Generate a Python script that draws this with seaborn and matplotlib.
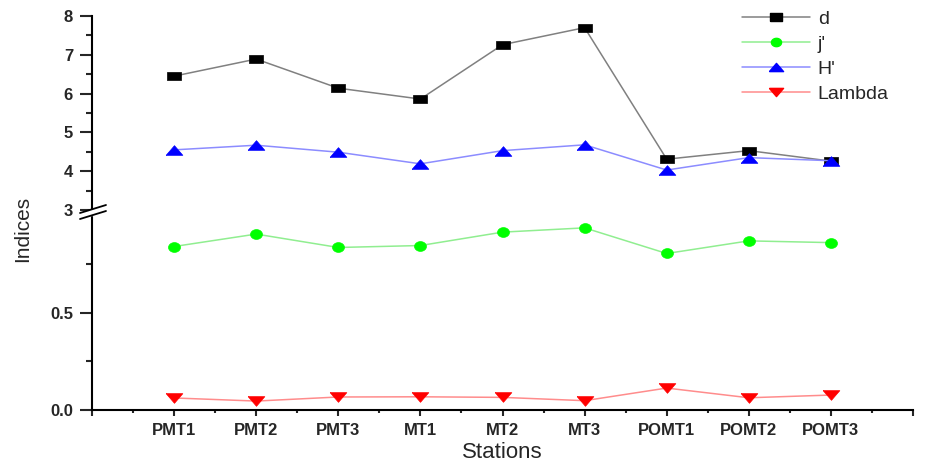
import numpy as np
import matplotlib
matplotlib.use("Agg")
import matplotlib.pyplot as plt
from matplotlib.lines import Line2D
from matplotlib.patches import Rectangle
import seaborn as sns

# ── Data ──────────────────────────────────────────────────────────────────────
stations = ["PMT1", "PMT2", "PMT3", "MT1", "MT2", "MT3", "POMT1", "POMT2", "POMT3"]
d_vals = [6.45, 6.89, 6.14, 5.86, 7.26, 7.70, 4.31, 4.53, 4.26]
h_vals = [4.55, 4.67, 4.49, 4.19, 4.53, 4.68, 4.03, 4.35, 4.27]
j_vals = [0.842, 0.906, 0.837, 0.847, 0.916, 0.938, 0.806, 0.871, 0.862]
lam_vals = [0.062, 0.046, 0.067, 0.068, 0.065, 0.048, 0.113, 0.063, 0.077]
pos = list(range(1, len(stations) + 1))

upper_ticks = [3, 4, 5, 6, 7, 8]
lower_ticks = [0.0, 0.5]

# ── Style ─────────────────────────────────────────────────────────────────────
sns.set_theme(style="white")
plt.rcParams["font.family"] = ["Liberation Sans", "DejaVu Sans"]
plt.rcParams.update({
    "axes.linewidth": 1.5,
    "axes.edgecolor": "black",
    "xtick.direction": "out",
    "ytick.direction": "out",
    "xtick.bottom": True,
    "ytick.left": True,
})

# wide markers (the source image is horizontally stretched)
SQ = [(-1, -0.62), (1, -0.62), (1, 0.62), (-1, 0.62), (-1, -0.62)]
TRI_UP = [(-1, -0.58), (1, -0.58), (0, 0.58), (-1, -0.58)]
TRI_DN = [(-1, 0.58), (1, 0.58), (0, -0.58), (-1, 0.58)]
_t = np.linspace(0, 2 * np.pi, 40)
ELL = list(zip(np.cos(_t), 0.82 * np.sin(_t)))

W, H = 930, 467
fig = plt.figure(figsize=(W / 100, H / 100), dpi=100)
x0, x1 = 92 / W, 913 / W
y_break = 1 - 210 / H
y_top = 1 - 16 / H
y_bot = 1 - 410 / H
ax_top = fig.add_axes([x0, y_break, x1 - x0, y_top - y_break])
ax_bot = fig.add_axes([x0, y_bot, x1 - x0, y_break - y_bot])

series = [
    (ax_top, d_vals, "d", "#808080", "black", SQ, 10),
    (ax_bot, j_vals, "j'", "#90ee90", "#00ff00", ELL, 8.6),
    (ax_top, h_vals, "H'", "#8c8cff", "#0000ff", TRI_UP, 12),
    (ax_bot, lam_vals, "Lambda", "#ff8c8c", "#ff0000", TRI_DN, 12),
]
handles = []
for ax, vals, name, lc, mc, mk, ms in series:
    sns.lineplot(x=pos, y=vals, ax=ax, color=lc, lw=1.1, marker=mk, ms=ms,
                 markerfacecolor=mc, markeredgecolor=mc, markeredgewidth=0.5,
                 zorder=3)
    handles.append(Line2D([], [], color=lc, lw=1.1, marker=mk, ms=ms * 0.85,
                          markerfacecolor=mc, markeredgecolor=mc, label=name))

for ax in (ax_top, ax_bot):
    ax.set_xlim(0, 10)
    ax.spines["top"].set_visible(False)
    ax.spines["right"].set_visible(False)
    ax.tick_params(axis="y", which="major", length=8.6, width=1.5, left=True, pad=5)
    ax.tick_params(axis="y", which="minor", length=4.3, width=1.5, left=True)
    ax.set_ylabel("")

ax_top.spines["bottom"].set_visible(False)
ax_top.set_ylim(3, 8)
ax_top.set_yticks(upper_ticks)
ax_top.set_yticks([3.5, 4.5, 5.5, 6.5, 7.5], minor=True)
ax_top.set_yticklabels([str(t) for t in upper_ticks], fontweight="bold", fontsize=12)
ax_top.set_xticks([])

ax_bot.set_ylim(0, 1.03)
ax_bot.set_yticks(lower_ticks)
ax_bot.set_yticks([0.25, 0.75], minor=True)
ax_bot.set_yticklabels([f"{t:.1f}" for t in lower_ticks], fontweight="bold", fontsize=12)
ax_bot.set_xticks(range(0, 11))
ax_bot.set_xticklabels([""] + stations + [""], fontweight="bold", fontsize=12)
ax_bot.set_xticks(np.arange(0.5, 10, 1), minor=True)
ax_bot.tick_params(axis="x", which="major", length=4.5, width=1.5, pad=5, bottom=True)
ax_bot.tick_params(axis="x", which="minor", length=2.5, width=1.5, bottom=True)
ax_bot.set_xlabel("Stations", fontsize=16, labelpad=3)

fig.text(23 / W, 1 - 229 / H, "Indices", rotation=90, fontsize=15,
         ha="center", va="center")

# axis break marks
yb = 212
fig.patches.append(Rectangle((x0 - 3 / W, 1 - (yb + 3) / H), 6 / W, 5 / H,
                             transform=fig.transFigure, color="white", zorder=5))
for dy in (-3, 3):
    fig.lines.append(Line2D([80 / W, 106 / W],
                            [1 - (yb + dy + 4) / H, 1 - (yb + dy - 4) / H],
                            transform=fig.transFigure, color="black", lw=1.3, zorder=6))

fig.legend(handles=handles, loc="upper left", bbox_to_anchor=(742 / W, 1 - 10 / H),
           frameon=False, fontsize=14, handlelength=3.5, handletextpad=0.4,
           labelspacing=0.38, borderpad=0, borderaxespad=0)

fig.savefig("out.png", dpi=100, facecolor="white")
